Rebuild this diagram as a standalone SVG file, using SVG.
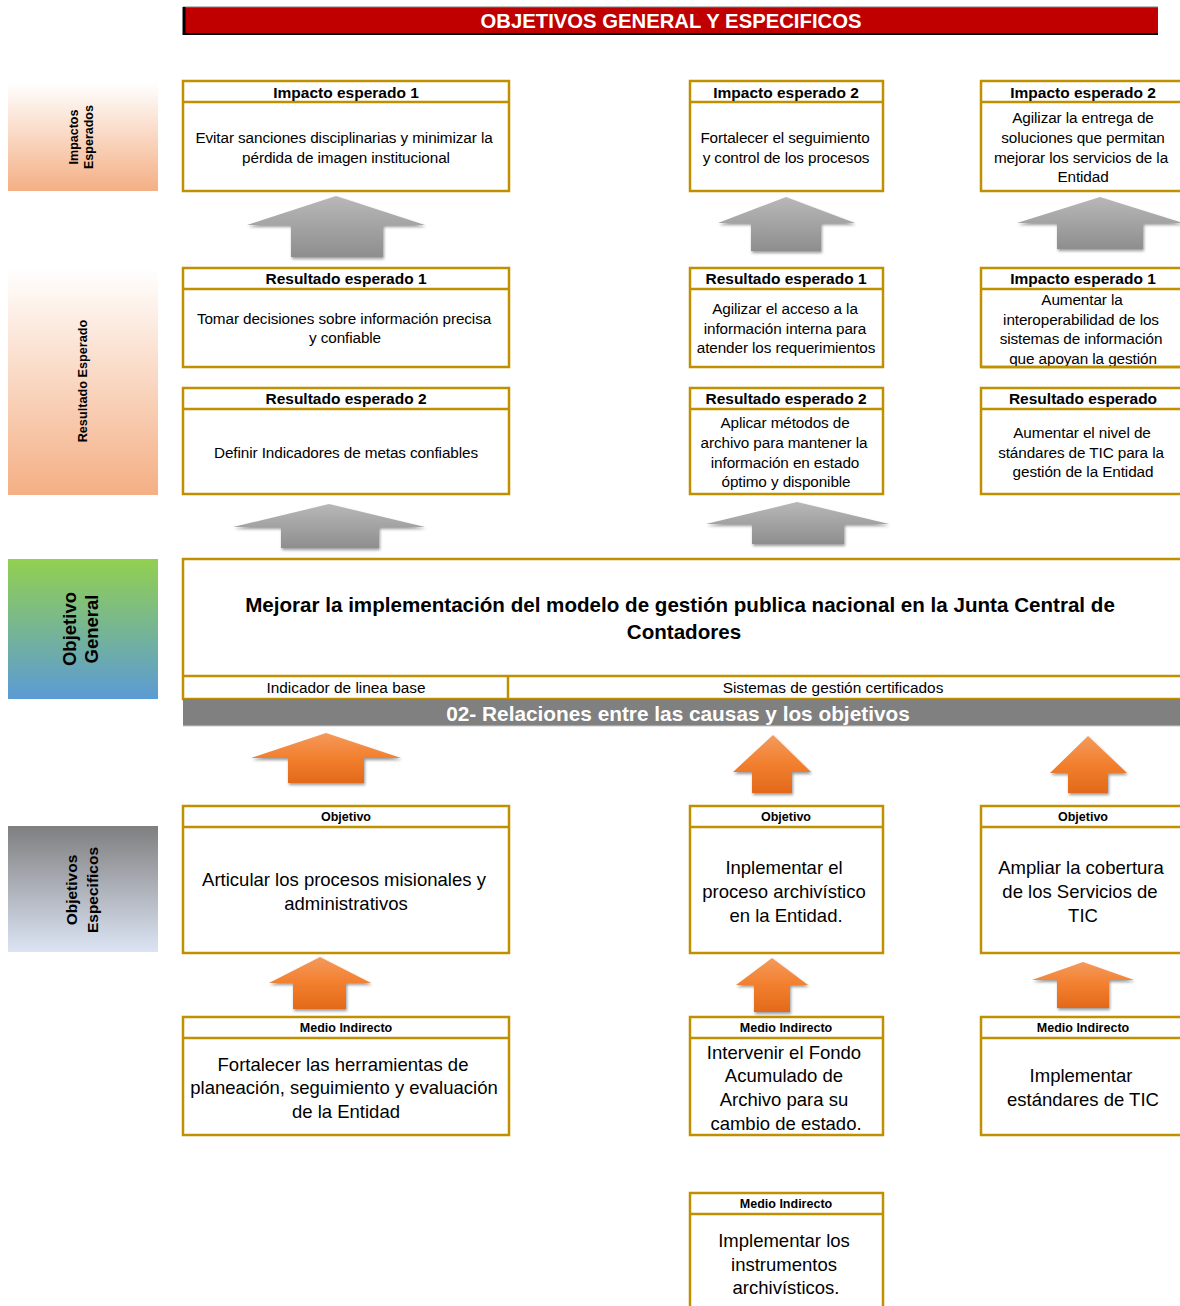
<svg xmlns="http://www.w3.org/2000/svg" width="1180" height="1306" viewBox="0 0 1180 1306">
<style>
text{font-family:"Liberation Sans",Arial,sans-serif;fill:#000}
.box{fill:#fff;stroke:#BF9000;stroke-width:2.5}
.sep{stroke:#BF9000;stroke-width:2.5}
.hd{font-weight:bold;font-size:15.5px;text-anchor:middle}
.hs{font-weight:bold;font-size:12.5px;text-anchor:middle}
.bt{font-size:15.3px;text-anchor:middle;letter-spacing:-0.1px}
.bl{font-size:18.5px;text-anchor:middle}
.lbl{font-weight:bold;text-anchor:middle}
.garrow{fill:url(#gGray);filter:url(#shadow)}
.oarrow{fill:url(#gOrange);filter:url(#shadow)}
</style>
<defs>
<linearGradient id="gImp" x1="0" y1="0" x2="0" y2="1"><stop offset="0" stop-color="#FFFFFF"/><stop offset="1" stop-color="#F4AF84"/></linearGradient>
<linearGradient id="gOG" x1="0" y1="0" x2="0" y2="1"><stop offset="0" stop-color="#92D050"/><stop offset="1" stop-color="#5B9BD5"/></linearGradient>
<linearGradient id="gOE" x1="0" y1="0" x2="0" y2="1"><stop offset="0" stop-color="#7F7F7F"/><stop offset="1" stop-color="#DCE4F4"/></linearGradient>
<linearGradient id="gGray" x1="0" y1="0" x2="0" y2="1"><stop offset="0" stop-color="#B8B8B8"/><stop offset="1" stop-color="#8E8E8E"/></linearGradient>
<linearGradient id="gOrange" x1="0" y1="0" x2="0" y2="1"><stop offset="0" stop-color="#F49A5C"/><stop offset="0.5" stop-color="#F27F2E"/><stop offset="1" stop-color="#E2691A"/></linearGradient>
<filter id="shadow" x="-20%" y="-20%" width="140%" height="150%"><feDropShadow dx="1" dy="2" stdDeviation="1.8" flood-color="#000" flood-opacity="0.4"/></filter>
</defs>
<rect width="1180" height="1306" fill="#fff"/>

<g id="title">
<rect x="183" y="7" width="975" height="27" fill="#C00000"/>
<line x1="183" y1="7" x2="1158" y2="7" stroke="#808080" stroke-width="1"/>
<line x1="184" y1="7" x2="184" y2="35" stroke="#000" stroke-width="3"/>
<line x1="183" y1="34" x2="1158" y2="34" stroke="#000" stroke-width="2"/>
<text x="671" y="28" style="font-weight:bold;font-size:20.3px;fill:#fff;text-anchor:middle">OBJETIVOS GENERAL Y ESPECIFICOS</text>
</g>

<g id="label-impactos">
<rect x="8" y="83" width="150" height="108" fill="url(#gImp)"/>
<text class="lbl" font-size="12.5" transform="rotate(-90 82 137)"><tspan x="82" y="133">Impactos</tspan><tspan x="82" y="148">Esperados</tspan></text>
</g>
<g id="label-resultado">
<rect x="8" y="268" width="150" height="227" fill="url(#gImp)"/>
<text class="lbl" font-size="12.7" transform="rotate(-90 82 381)" x="82" y="386">Resultado Esperado</text>
</g>
<g id="label-objetivo-general">
<rect x="8" y="559" width="150" height="140" fill="url(#gOG)"/>
<text class="lbl" font-size="18.5" transform="rotate(-90 82 629)"><tspan x="82" y="623">Objetivo</tspan><tspan x="82" y="645">General</tspan></text>
</g>
<g id="label-objetivos-especificos">
<rect x="8" y="826" width="150" height="126" fill="url(#gOE)"/>
<text class="lbl" font-size="15.5" transform="rotate(-90 82 890)"><tspan x="82" y="885">Objetivos</tspan><tspan x="82" y="906">Especificos</tspan></text>
</g>

<!-- Row 1: Impactos -->
<g id="imp1">
<rect class="box" x="183" y="81" width="326" height="110"/>
<line class="sep" x1="183" y1="102" x2="510" y2="102"/>
<text class="hd" x="346" y="97.5">Impacto esperado 1</text>
<text class="bt"><tspan x="344" y="142.5">Evitar sanciones disciplinarias y minimizar la</tspan><tspan x="346" y="162.5">pérdida de imagen institucional</tspan></text>
</g>
<g id="imp2">
<rect class="box" x="690" y="81" width="193" height="110"/>
<line class="sep" x1="690" y1="102" x2="883" y2="102"/>
<text class="hd" x="786" y="97.5">Impacto esperado 2</text>
<text class="bt"><tspan x="785" y="142.5">Fortalecer el seguimiento</tspan><tspan x="786" y="162.5">y control de los procesos</tspan></text>
</g>
<g id="imp3">
<rect class="box" x="981" y="81" width="215" height="110"/>
<line class="sep" x1="981" y1="102" x2="1196" y2="102"/>
<text class="hd" x="1083" y="97.5">Impacto esperado 2</text>
<text class="bt"><tspan x="1083" y="123">Agilizar la entrega de</tspan><tspan x="1083" y="142.5">soluciones que permitan</tspan><tspan x="1081" y="162.5">mejorar los servicios de la</tspan><tspan x="1083" y="182">Entidad</tspan></text>
</g>

<!-- Row 2: Resultado 1 -->
<g id="res1">
<rect class="box" x="183" y="268" width="326" height="99"/>
<line class="sep" x1="183" y1="289" x2="510" y2="289"/>
<text class="hd" x="346" y="284">Resultado esperado 1</text>
<text class="bt"><tspan x="344" y="324">Tomar decisiones sobre información precisa</tspan><tspan x="345" y="343">y confiable</tspan></text>
</g>
<g id="res2">
<rect class="box" x="690" y="268" width="193" height="99"/>
<line class="sep" x1="690" y1="289" x2="883" y2="289"/>
<text class="hd" x="786" y="284">Resultado esperado 1</text>
<text class="bt"><tspan x="785" y="314">Agilizar el acceso a la</tspan><tspan x="785" y="334">información interna para</tspan><tspan x="786" y="353">atender los requerimientos</tspan></text>
</g>
<g id="res3">
<rect class="box" x="981" y="268" width="215" height="99"/>
<line class="sep" x1="981" y1="289" x2="1196" y2="289"/>
<text class="hd" x="1083" y="284">Impacto esperado 1</text>
<text class="bt"><tspan x="1082" y="305">Aumentar la</tspan><tspan x="1081" y="325">interoperabilidad de los</tspan><tspan x="1081" y="344">sistemas de información</tspan><tspan x="1083" y="364">que apoyan la gestión</tspan></text>
<line class="sep" x1="981" y1="367" x2="1196" y2="367"/>
</g>

<!-- Row 3: Resultado 2 -->
<g id="res4">
<rect class="box" x="183" y="388" width="326" height="106"/>
<line class="sep" x1="183" y1="409" x2="510" y2="409"/>
<text class="hd" x="346" y="404">Resultado esperado 2</text>
<text class="bt" x="346" y="458">Definir Indicadores de metas confiables</text>
</g>
<g id="res5">
<rect class="box" x="690" y="388" width="193" height="106"/>
<line class="sep" x1="690" y1="409" x2="883" y2="409"/>
<text class="hd" x="786" y="404">Resultado esperado 2</text>
<text class="bt"><tspan x="785" y="428">Aplicar métodos de</tspan><tspan x="784" y="448">archivo para mantener la</tspan><tspan x="785" y="468">información en estado</tspan><tspan x="786" y="487">óptimo y disponible</tspan></text>
</g>
<g id="res6">
<rect class="box" x="981" y="388" width="215" height="106"/>
<line class="sep" x1="981" y1="409" x2="1196" y2="409"/>
<text class="hd" x="1083" y="404">Resultado esperado</text>
<text class="bt"><tspan x="1082" y="438">Aumentar el nivel de</tspan><tspan x="1081" y="458">stándares de TIC para la</tspan><tspan x="1083" y="477">gestión de la Entidad</tspan></text>
</g>

<!-- Objetivo general -->
<g id="objetivo-general">
<rect class="box" x="183" y="559" width="1013" height="140"/>
<line class="sep" x1="183" y1="676" x2="1196" y2="676" stroke-width="1.5"/>
<line class="sep" x1="508" y1="676" x2="508" y2="698" stroke-width="1.5"/>
<text style="font-weight:bold;font-size:20.6px;text-anchor:middle"><tspan x="680" y="612">Mejorar la implementación del modelo de gestión publica nacional en la Junta Central de</tspan><tspan x="684" y="639">Contadores</tspan></text>
<text x="346" y="693" style="font-size:15.4px;text-anchor:middle">Indicador de linea base</text>
<text x="833" y="693" style="font-size:15.4px;text-anchor:middle">Sistemas de gestión certificados</text>
</g>
<g id="relaciones-bar">
<rect x="183" y="699" width="1000" height="27" fill="#808080"/>
<line x1="183" y1="726" x2="1183" y2="726" stroke="#C8C8C8" stroke-width="1"/>
<text x="678" y="720.5" style="font-weight:bold;font-size:20.8px;fill:#fff;text-anchor:middle">02- Relaciones entre las causas y los objetivos</text>
</g>

<!-- Objetivos especificos -->
<g id="obj1">
<rect class="box" x="183" y="806" width="326" height="147"/>
<line class="sep" x1="183" y1="827" x2="510" y2="827"/>
<text class="hs" x="346" y="821">Objetivo</text>
<text class="bl"><tspan x="344" y="885.5">Articular los procesos misionales y</tspan><tspan x="346" y="909.5">administrativos</tspan></text>
</g>
<g id="obj2">
<rect class="box" x="690" y="806" width="193" height="147"/>
<line class="sep" x1="690" y1="827" x2="883" y2="827"/>
<text class="hs" x="786" y="821">Objetivo</text>
<text class="bl"><tspan x="784" y="873.5">Inplementar el</tspan><tspan x="784" y="897.5">proceso archivístico</tspan><tspan x="786" y="921.5">en la Entidad.</tspan></text>
</g>
<g id="obj3">
<rect class="box" x="981" y="806" width="215" height="147"/>
<line class="sep" x1="981" y1="827" x2="1196" y2="827"/>
<text class="hs" x="1083" y="821">Objetivo</text>
<text class="bl"><tspan x="1081" y="873.5">Ampliar la cobertura</tspan><tspan x="1080" y="897.5">de los Servicios de</tspan><tspan x="1083" y="921.5">TIC</tspan></text>
</g>

<!-- Medios indirectos -->
<g id="medio1">
<rect class="box" x="183" y="1017" width="326" height="118"/>
<line class="sep" x1="183" y1="1038" x2="510" y2="1038"/>
<text class="hs" x="346" y="1032">Medio Indirecto</text>
<text class="bl"><tspan x="343" y="1070.5">Fortalecer las herramientas de</tspan><tspan x="344" y="1093.5">planeación, seguimiento y evaluación</tspan><tspan x="346" y="1117.5">de la Entidad</tspan></text>
</g>
<g id="medio2">
<rect class="box" x="690" y="1017" width="193" height="118"/>
<line class="sep" x1="690" y1="1038" x2="883" y2="1038"/>
<text class="hs" x="786" y="1032">Medio Indirecto</text>
<text class="bl"><tspan x="784" y="1058.5">Intervenir el Fondo</tspan><tspan x="784" y="1081.5">Acumulado de</tspan><tspan x="784" y="1105.5">Archivo para su</tspan><tspan x="786" y="1129.5">cambio de estado.</tspan></text>
</g>
<g id="medio3">
<rect class="box" x="981" y="1017" width="215" height="118"/>
<line class="sep" x1="981" y1="1038" x2="1196" y2="1038"/>
<text class="hs" x="1083" y="1032">Medio Indirecto</text>
<text class="bl"><tspan x="1081" y="1081.5">Implementar</tspan><tspan x="1083" y="1105.5">estándares de TIC</tspan></text>
</g>
<g id="medio4">
<rect class="box" x="690" y="1193" width="193" height="130"/>
<line class="sep" x1="690" y1="1214" x2="883" y2="1214"/>
<text class="hs" x="786" y="1208">Medio Indirecto</text>
<text class="bl"><tspan x="784" y="1246.5">Implementar los</tspan><tspan x="784" y="1270.5">instrumentos</tspan><tspan x="786" y="1293.5">archivísticos.</tspan></text>
</g>

<g id="connectors">
<path class="garrow" d="M336,196 L425,225 L383,225 L383,257 L291,257 L291,225 L247,225 Z"/>
<path class="garrow" d="M786,197 L855,223 L821,223 L821,251 L751,251 L751,223 L718,223 Z"/>
<path class="garrow" d="M1100,197 L1183,223 L1143,223 L1143,249 L1057,249 L1057,223 L1017,223 Z"/>
<path class="garrow" d="M329,504 L425,527 L379,527 L379,548 L281,548 L281,527 L233,527 Z"/>
<path class="garrow" d="M797,502 L889,524 L844,524 L844,544 L752,544 L752,524 L706,524 Z"/>
<path class="oarrow" d="M326,733 L401,758 L364,758 L364,783 L288,783 L288,758 L251,758 Z"/>
<path class="oarrow" d="M773,735 L811,772 L792,772 L792,793 L752,793 L752,772 L733,772 Z"/>
<path class="oarrow" d="M1088,736 L1127,773 L1108,773 L1108,793 L1068,793 L1068,773 L1050,773 Z"/>
<path class="oarrow" d="M320,957 L371,983 L346,983 L346,1009 L293,1009 L293,983 L269,983 Z"/>
<path class="oarrow" d="M772,958 L808,985 L790,985 L790,1012 L754,1012 L754,985 L736,985 Z"/>
<path class="oarrow" d="M1083,962 L1134,980 L1109,980 L1109,1008 L1057,1008 L1057,980 L1032,980 Z"/>
</g>
</svg>
